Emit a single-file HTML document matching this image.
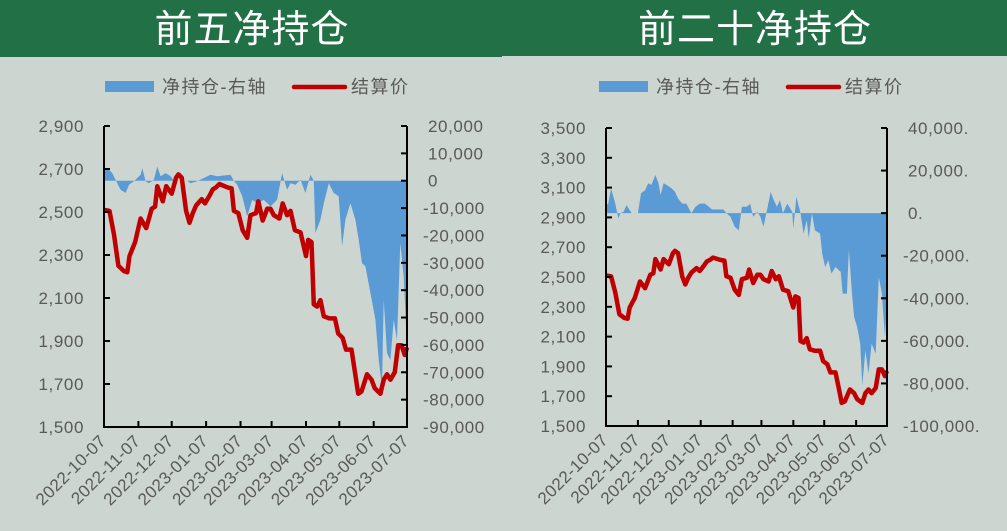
<!DOCTYPE html>
<html><head><meta charset="utf-8">
<style>
html,body{margin:0;padding:0;background:#ccd5cf;}
svg{display:block;font-family:"Liberation Sans","Noto Sans CJK SC",sans-serif;}
</style></head>
<body>
<svg id="s" width="1007" height="531" viewBox="0 0 1007 531" xmlns="http://www.w3.org/2000/svg">
<rect x="0" y="0" width="1007" height="531" fill="#ccd5cf"/>
<rect x="0" y="0" width="502" height="57" fill="#217046"/>
<rect x="502" y="0" width="505" height="56" fill="#217046"/>
<text x="252" y="42" text-anchor="middle" fill="#fff" font-size="38" letter-spacing="1">前五净持仓</text>
<text x="755" y="42" text-anchor="middle" fill="#fff" font-size="38" letter-spacing="1">前二十净持仓</text>
<g id="c1"></g>
<g id="c2"></g>
</svg>
<script>
const monthLabels=["2022-10-07","2022-11-07","2022-12-07","2023-01-07","2023-02-07","2023-03-07","2023-04-07","2023-05-07","2023-06-07","2023-07-07"];
const monthDays=[0,31,61,92,123,151,182,212,243,273];
const priceDays=[0,5,9,13,18,21,23,28,33,38,43,46,48,53,56,61,65,67,70,74,77,80,83,88,91,95,98,101,104,111,115,117,121,125,129,132,137,139,143,147,150,153,158,161,165,168,172,177,182,184,187,189,192,195,198,203,208,211,215,218,223,226,229,232,237,241,244,249,252,255,258,262,265,268,271,273];
const priceValues=[2510,2505,2395,2250,2225,2220,2295,2360,2470,2425,2515,2525,2620,2550,2620,2585,2660,2675,2660,2505,2450,2495,2530,2560,2540,2575,2605,2615,2630,2615,2610,2505,2495,2415,2380,2485,2495,2550,2460,2515,2515,2485,2470,2540,2485,2505,2415,2405,2295,2370,2360,2070,2060,2090,2015,2005,2005,1935,1915,1860,1860,1760,1655,1665,1745,1720,1680,1655,1720,1745,1720,1755,1880,1880,1835,1870];
const top5Days=[0,4.5,7.5,12,15,19.5,22.5,27,33,34.5,37.5,40.5,45,48,51,55.5,60,63,75,78,84,96,102,114,117,120,124.5,129,133.5,138,144,150,156,160.5,165,168,172.5,177,181.5,186,189,190.5,195,198,202.5,207,211.5,214.5,217.5,222,226.5,229.5,232.5,235.5,240,244.5,247.5,250.5,252,255,258,261,264,267,270,272.4,273];
const top5Net=[4600,4000,2800,-900,-3300,-4500,-1500,-200,2200,4600,-200,-900,400,5200,1600,2800,1600,0,0,-900,-200,2200,1600,2200,0,-1500,-5700,-13000,-7000,-8200,-7000,-9400,-7000,2800,-3300,-900,-1500,400,-4500,2200,0,-19100,-14300,-8200,-900,-4500,-5700,-24000,-14300,-8200,-14300,-21600,-30100,-31300,-41000,-50800,-65500,-75200,-43500,-63000,-65500,-50800,-58200,-22800,-35000,-55700,-38700];
const top20Days=[0,2,5,9,12,14,17,20,23,25,31,34,38,41,44,48,51,53,56,59,64,67,70,74,78,83,87,91,96,100,103,114,117,121,125,129,132,137,140,143,147,150,153,156,160,163,166,169,172,176,181,182,185,189,192,195,197,200,203,208,210,213,216,219,223,228,230,234,236,239,241,244,247,249,252,255,258,262,265,268,271,273];
const top20Net=[4200,4200,11600,4500,-2500,0,600,3800,1400,0,0,9300,10800,14000,13200,17900,14000,8500,14000,13200,11600,10000,6900,4500,4500,0,3000,4500,4500,3000,1700,1700,0,-1700,-6400,-8000,3000,3000,4500,-1700,600,-1700,-6400,600,10000,6100,3000,6100,0,4500,600,-7200,7700,0,-9600,-3300,-11900,0,-8000,-9600,-19000,-25300,-22100,-28400,-25300,-27600,-37800,-37800,-17400,-37800,-48800,-53500,-61300,-80900,-64500,-75400,-61300,-66000,-30000,-37800,-58200,-40900];
const leftTicks1=[1500,1700,1900,2100,2300,2500,2700,2900];
const rightTicks1=[-90000,-80000,-70000,-60000,-50000,-40000,-30000,-20000,-10000,0,10000,20000];
const leftTicks2=[1500,1700,1900,2100,2300,2500,2700,2900,3100,3300,3500];
const rightTicks2=[-100000,-80000,-60000,-40000,-20000,0,20000,40000];

const NS="http://www.w3.org/2000/svg";
function mk(p,tag,attrs){const e=document.createElementNS(NS,tag);for(const k in attrs)e.setAttribute(k,attrs[k]);p.appendChild(e);return e;}
function fmt(v,dot){const s=Math.abs(v).toLocaleString('en-US');return (v<0?'-':'')+s+(dot?'.':'');}

function draw(g,o){
  const X=d=>o.x0+(d/273)*(o.x1-o.x0);
  const YL=v=>o.y1-(v-o.lmin)/(o.lmax-o.lmin)*(o.y1-o.y0);
  const YR=v=>o.y1-(v-o.rmin)/(o.rmax-o.rmin)*(o.y1-o.y0);
  let e=mk(g,'rect',{x:o.lg,y:81,width:49,height:11,fill:'#5b9bd5'});
  
  e=mk(g,'text',{x:o.lg+57,y:93,'font-size':18,'letter-spacing':1.5,fill:'#595959'});e.textContent='净持仓-右轴';
  
  e=mk(g,'line',{x1:o.lg+189,x2:o.lg+240,y1:87,y2:87,stroke:'#c00000','stroke-width':4.5,'stroke-linecap':'round'});
  
  e=mk(g,'text',{x:o.lg+246,y:93,'font-size':18,'letter-spacing':1.5,fill:'#595959'});e.textContent='结算价';
  
  const z=YR(0);
  let d='M'+X(o.nd[0])+','+z;
  o.nd.forEach((dd,i)=>{d+=' L'+X(dd).toFixed(1)+','+YR(o.nv[i]).toFixed(1);});
  d+=' L'+X(o.nd[o.nd.length-1])+','+z+' Z';
  e=mk(g,'path',{d:d,fill:'#5b9bd5'});
  
  d='';
  priceDays.forEach((dd,i)=>{d+=(i?' L':'M')+X(dd).toFixed(1)+','+YL(priceValues[i]).toFixed(1);});
  e=mk(g,'path',{d:d,fill:'none',stroke:'#c00000','stroke-width':4.5,'stroke-linejoin':'round'});
  
  e=mk(g,'path',{d:`M${o.x0},${o.y0} V${o.y1} H${o.x1} V${o.y0}`,fill:'none',stroke:'#000','stroke-width':2});
  
  o.lt.forEach(v=>{const y=YL(v);
    mk(g,'line',{x1:o.x0,x2:o.x0+6,y1:y,y2:y,stroke:'#000','stroke-width':2});
    const t=mk(g,'text',{x:o.x0-20,y:y+6,'font-size':17,'letter-spacing':0.6,fill:'#595959','text-anchor':'end'});t.textContent=fmt(v,false);
    });
  o.rt.forEach(v=>{const y=YR(v);
    mk(g,'line',{x1:o.x1-6,x2:o.x1,y1:y,y2:y,stroke:'#000','stroke-width':2});
    const t=mk(g,'text',{x:o.x1+(v<0?16:21),y:y+6,'font-size':17,'letter-spacing':0.6,fill:'#595959'});t.textContent=fmt(v,o.dot);
    });
  monthDays.forEach((dd,i)=>{const x=X(dd);
    mk(g,'line',{x1:x,x2:x,y1:o.y1-6,y2:o.y1,stroke:'#000','stroke-width':2});
    const t=mk(g,'text',{x:x+3,y:o.y1+15,'font-size':17,'letter-spacing':0.4,fill:'#595959','text-anchor':'end',transform:`rotate(-45 ${x+3} ${o.y1+15})`});t.textContent=monthLabels[i];
    });
}
draw(document.getElementById('c1'),{x0:104,x1:407,y0:126,y1:427,lmin:1500,lmax:2900,rmin:-90000,rmax:20000,lt:leftTicks1,rt:rightTicks1,nd:top5Days,nv:top5Net,lg:105,dot:false});
draw(document.getElementById('c2'),{x0:606,x1:887,y0:128,y1:426,lmin:1500,lmax:3500,rmin:-100000,rmax:40000,lt:leftTicks2,rt:rightTicks2,nd:top20Days,nv:top20Net,lg:599,dot:true});
</script>
</body></html>
